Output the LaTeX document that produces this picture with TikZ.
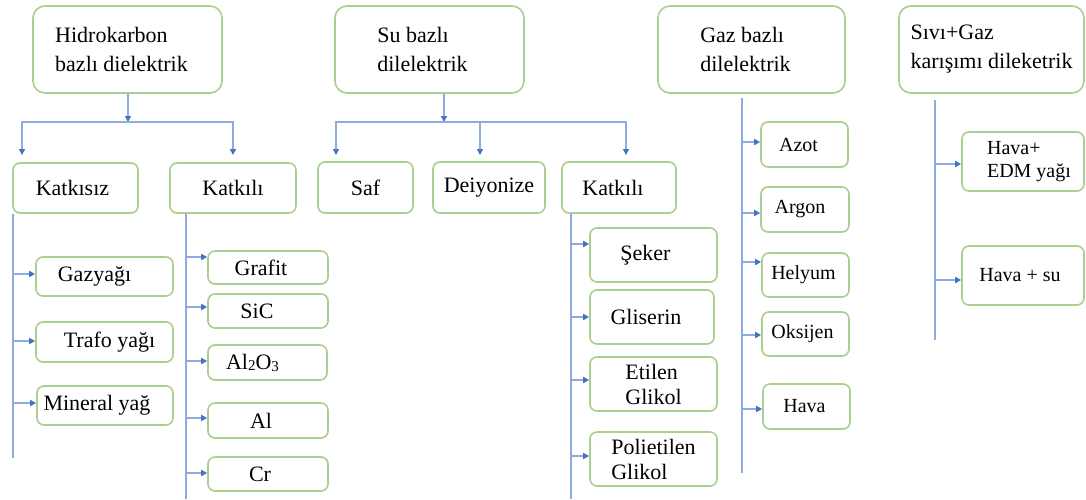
\documentclass[tikz,border=0pt]{standalone}
\usepackage{fontspec}
\setmainfont{Liberation Serif}
\usetikzlibrary{arrows.meta}
\definecolor{boxgreen}{RGB}{169,208,142}
\definecolor{linkblue}{RGB}{143,170,220}
\definecolor{tipblue}{RGB}{68,114,196}
% move a line of text sideways inside its box without changing its width
\newcommand\txtshift[2]{\hspace*{#1}#2\hspace*{-#1}}

\begin{document}
\begin{tikzpicture}[x=1pt,y=-1pt,
  box/.style={draw=boxgreen, line width=1.6pt, rounded corners=7pt, inner sep=0pt,
    text=black, align=center, font=\fontsize{22}{25}\selectfont},
  head/.style={box, rounded corners=12pt, minimum height=87pt, align=left,
    font=\fontsize{22}{29}\selectfont},
  gas/.style={box, font=\fontsize{20}{23}\selectfont},
  conn/.style={draw=linkblue, line width=1.5pt},
  arrowed/.style={conn, -{Triangle[length=6pt,width=6pt,color=tipblue]}},
]
\useasboundingbox (0,0) rectangle (1086,499);

% ---------- category headers ----------
\node[head, minimum width=189pt] (hk) at (127.5,49.5)
  {\txtshift{-6pt}{Hidrokarbon}\\\txtshift{-6pt}{bazlı dielektrik}};
\node[head, minimum width=189pt] (su) at (429.5,49.5)
  {\txtshift{-7pt}{Su bazlı}\\\txtshift{-7pt}{dilelektrik}};
\node[head, minimum width=187pt] (gz) at (751.5,49.5)
  {\txtshift{-6pt}{Gaz bazlı}\\\txtshift{-6pt}{dilelektrik}};
\node[head, minimum width=185pt] (sg) at (991.5,49.5) {Sıvı+Gaz\\karışımı dileketrik};

% ---------- second level ----------
\node[box, minimum width=125pt, minimum height=50pt] (k1) at (75.5,188) {\txtshift{-3pt}{Katkısız}};
\node[box, minimum width=126pt, minimum height=50pt] (k2) at (233,188) {Katkılı};
\node[box, minimum width=95pt, minimum height=51pt] (saf) at (365.5,187.5) {Saf};
\node[box, minimum width=112pt, minimum height=51pt] (dei) at (489,187.5) {Deiyonize};
\node[box, minimum width=114pt, minimum height=51pt] (k3) at (619,187.5) {\txtshift{-6pt}{Katkılı}};

% ---------- hydrocarbon, no additive ----------
\node[box, minimum width=137pt, minimum height=39pt] (gzy) at (104.5,276.5) {\txtshift{-10pt}{Gazyağı}};
\node[box, minimum width=137pt, minimum height=40pt] (trf) at (104.5,342) {\txtshift{5pt}{Trafo yağı}};
\node[box, minimum width=136pt, minimum height=39pt] (min) at (105,405.5) {\txtshift{-8pt}{Mineral yağ}};

% ---------- hydrocarbon, with additive ----------
\node[box, minimum width=120pt, minimum height=33pt] (grf) at (268,267.5) {\txtshift{-7pt}{Grafit}};
\node[box, minimum width=120pt, minimum height=34pt] (sic) at (268,311) {\txtshift{-11pt}{SiC}};
\node[box, minimum width=119pt, minimum height=35pt] (alo) at (267.5,362.5)
  {\txtshift{-15pt}{Al\raisebox{-1pt}{\fontsize{15}{15}\selectfont 2}O\raisebox{-2pt}{\fontsize{15}{15}\selectfont 3}}};
\node[box, minimum width=120pt, minimum height=35pt] (al) at (268,420.5) {\txtshift{-7pt}{Al}};
\node[box, minimum width=120pt, minimum height=34pt] (cr) at (268,474) {\txtshift{-8pt}{Cr}};

% ---------- water, with additive ----------
\node[box, minimum width=127pt, minimum height=54pt] (sek) at (653.5,255) {\txtshift{-8pt}{Şeker}};
\node[box, minimum width=124pt, minimum height=54pt] (gli) at (652,317) {\txtshift{-6pt}{Gliserin}};
\node[box, minimum width=127pt, minimum height=54pt, align=left] (etg) at (653.5,384) {Etilen\\Glikol};
\node[box, minimum width=127pt, minimum height=54pt, align=left] (peg) at (653.5,459) {Polietilen\\Glikol};

% ---------- gases ----------
\node[gas, minimum width=87pt, minimum height=45pt] (azo) at (804.5,144.5) {\txtshift{-6pt}{Azot}};
\node[gas, minimum width=88pt, minimum height=45pt] (arg) at (805,209.5) {\txtshift{-5pt}{Argon}};
\node[gas, minimum width=87pt, minimum height=44pt] (hel) at (805.5,275) {\txtshift{-2pt}{Helyum}};
\node[gas, minimum width=87pt, minimum height=44pt] (oks) at (805.5,334) {\txtshift{-3pt}{Oksijen}};
\node[gas, minimum width=87pt, minimum height=45pt] (hav) at (806.5,406.5) {\txtshift{-2pt}{Hava}};

% ---------- liquid + gas mixtures ----------
\node[gas, minimum width=122pt, minimum height=59pt, align=left] (edm) at (1023,161.5)
  {\txtshift{6pt}{Hava+}\\\txtshift{6pt}{EDM yağı}};
\node[gas, minimum width=122pt, minimum height=59pt] (hsu) at (1023,275.5) {\txtshift{-3pt}{Hava + su}};

% ---------- junctions and trunk ends ----------
\coordinate (hkj) at (128,122);
\coordinate (k1in) at (22,155);
\coordinate (k2in) at (233,155);
\coordinate (suj) at (444,122);
\coordinate (safin) at (336,155);
\coordinate (deiin) at (480,155);
\coordinate (k3in) at (626,155);
\coordinate (k1end) at (13,458);
\coordinate (k2end) at (186,499);
\coordinate (k3end) at (571,499);
\coordinate (gztop) at (742,98);
\coordinate (gzend) at (742,473);
\coordinate (sgtop) at (935,100);
\coordinate (sgend) at (935,340);

% hydrocarbon tree
\draw[arrowed] (hk.south -| hkj) -- (hkj);
\draw[arrowed] (hkj) -| (k1in);
\draw[arrowed] (hkj) -| (k2in);
\draw[conn] (k1.south -| k1end) -- (k1end);
\draw[conn] (k2.south -| k2end) -- (k2end);
\draw[arrowed] (k1end |- 0,274) -- (gzy.west |- 0,274);
\draw[arrowed] (k1end |- 0,341) -- (trf.west |- 0,341);
\draw[arrowed] (k1end |- 0,403) -- (min.west |- 0,403);
\draw[arrowed] (k2end |- 0,257) -- (grf.west |- 0,257);
\draw[arrowed] (k2end |- 0,307) -- (sic.west |- 0,307);
\draw[arrowed] (k2end |- 0,361) -- (alo.west |- 0,361);
\draw[arrowed] (k2end |- 0,418) -- (al.west |- 0,418);
\draw[arrowed] (k2end |- 0,473) -- (cr.west |- 0,473);

% water tree
\draw[arrowed] (su.south -| suj) -- (suj);
\draw[arrowed] (suj) -| (safin);
\draw[arrowed] (suj) -| (deiin);
\draw[arrowed] (suj) -| (k3in);
\draw[conn] (k3.south -| k3end) -- (k3end);
\draw[arrowed] (k3end |- 0,244) -- (sek.west |- 0,244);
\draw[arrowed] (k3end |- 0,317) -- (gli.west |- 0,317);
\draw[arrowed] (k3end |- 0,380) -- (etg.west |- 0,380);
\draw[arrowed] (k3end |- 0,456) -- (peg.west |- 0,456);

% gas tree
\draw[conn] (gztop) -- (gzend);
\draw[arrowed] (gztop |- 0,142) -- (azo.west |- 0,142);
\draw[arrowed] (gztop |- 0,213) -- (arg.west |- 0,213);
\draw[arrowed] (gztop |- 0,262) -- (hel.west |- 0,262);
\draw[arrowed] (gztop |- 0,335) -- (oks.west |- 0,335);
\draw[arrowed] (gztop |- 0,409) -- (hav.west |- 0,409);

% mixture tree
\draw[conn] (sgtop) -- (sgend);
\draw[arrowed] (sgtop |- 0,164) -- (edm.west |- 0,164);
\draw[arrowed] (sgtop |- 0,280) -- (hsu.west |- 0,280);
\end{tikzpicture}
\end{document}
